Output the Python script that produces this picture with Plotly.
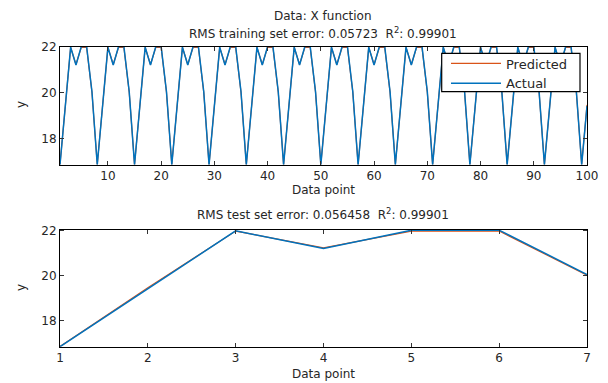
import plotly.graph_objects as go

# ---- data ----
train_x = list(range(1, 101))
period_actual = [16.85, 19.42, 22.00, 21.22, 22.03, 22.03, 20.06]
period_pred = [16.86, 19.47, 21.99, 21.24, 21.99, 21.99, 20.03]
train_actual = [period_actual[(i - 1) % 7] for i in train_x]
train_pred = [period_pred[(i - 1) % 7] for i in train_x]

test_x = [1, 2, 3, 4, 5, 6, 7]
test_actual = [16.85, 19.42, 22.00, 21.22, 22.03, 22.03, 20.06]
test_pred = [16.86, 19.47, 21.99, 21.24, 21.99, 21.99, 20.03]

top_xticks = [10, 20, 30, 40, 50, 60, 70, 80, 90, 100]
bottom_xticks = [1, 2, 3, 4, 5, 6, 7]
yticks = [18, 20, 22]

BLUE = "#0072BD"
ORANGE = "#D95319"
TXT = "#262626"
FONT = "DejaVu Sans, Liberation Sans, Arial, sans-serif"
FS = 12

fig = go.Figure()
fig.add_trace(go.Scatter(x=train_x, y=train_pred, mode="lines", name="Predicted",
                         line=dict(color=ORANGE, width=1.2), xaxis="x", yaxis="y"))
fig.add_trace(go.Scatter(x=train_x, y=train_actual, mode="lines", name="Actual",
                         line=dict(color=BLUE, width=1.5), xaxis="x", yaxis="y"))
fig.add_trace(go.Scatter(x=test_x, y=test_pred, mode="lines", showlegend=False,
                         line=dict(color=ORANGE, width=1.2), xaxis="x2", yaxis="y2"))
fig.add_trace(go.Scatter(x=test_x, y=test_actual, mode="lines", showlegend=False,
                         line=dict(color=BLUE, width=1.5), xaxis="x2", yaxis="y2"))

W, H = 608, 383
xd = [60 / W, 587 / W]
top_dom = [(H - 164.7) / H, (H - 46.5) / H]
bot_dom = [(H - 346.7) / H, (H - 229.5) / H]

ax_common = dict(showline=True, linecolor="black", linewidth=1, mirror="ticks",
                 ticks="inside", ticklen=4, tickcolor="#333333", showgrid=False,
                 zeroline=False, tickfont=dict(family=FONT, size=FS, color=TXT))

fig.update_layout(
    autosize=True, margin=dict(l=0, r=0, t=0, b=0, autoexpand=False),
    paper_bgcolor="white", plot_bgcolor="white",
    font=dict(family=FONT, size=FS, color=TXT),
    xaxis=dict(domain=xd, anchor="y", range=[1, 100], tickvals=top_xticks, **ax_common),
    yaxis=dict(domain=top_dom, anchor="x", range=[16.85, 22.03], tickvals=yticks, **ax_common),
    xaxis2=dict(domain=xd, anchor="y2", range=[1, 7], tickvals=bottom_xticks, **ax_common),
    yaxis2=dict(domain=bot_dom, anchor="x2", range=[16.85, 22.06], tickvals=yticks, **ax_common),
    legend=dict(x=446 / W, y=(H - 48.5) / H, xanchor="left", yanchor="top",
                bgcolor="rgba(0,0,0,0)", borderwidth=0,
                font=dict(family=FONT, size=13, color=TXT),
                tracegroupgap=0, itemwidth=50),
    showlegend=True,
)

# legend frame
fig.add_shape(type="rect", xref="paper", yref="paper", layer="above",
              x0=441.7 / W, x1=580 / W, y0=(H - 91.7) / H, y1=(H - 53.3) / H,
              line=dict(color="black", width=1.2), fillcolor="white")

ann = [
    dict(text="Data: X function", x=323 / W, y=(H - 16) / H),
    dict(text="RMS training set error: 0.05723  R<sup>2</sup>: 0.99901", x=323 / W, y=(H - 33) / H),
    dict(text="Data point", x=323 / W, y=(H - 190) / H),
    dict(text="RMS test set error: 0.056458  R<sup>2</sup>: 0.99901", x=323 / W, y=(H - 214) / H),
    dict(text="Data point", x=323 / W, y=(H - 374) / H),
]
for a in ann:
    fig.add_annotation(xref="paper", yref="paper", showarrow=False, xanchor="center",
                       yanchor="middle", font=dict(family=FONT, size=FS, color=TXT), **a)
for yy in [(H - 105) / H, (H - 288) / H]:
    fig.add_annotation(text="y", xref="paper", yref="paper", x=21 / W, y=yy, showarrow=False,
                       textangle=-90, xanchor="center", yanchor="middle",
                       font=dict(family=FONT, size=FS, color=TXT))

post = (
    "var s=document.createElement('style');"
    "s.innerHTML='html,body{margin:0;padding:0;width:100%;height:100%;overflow:hidden;}';"
    "document.head.appendChild(s);"
    "var gd=document.getElementById('{plot_id}');"
    "gd.style.width='100%';gd.style.height='100%';"
    "if(gd.parentNode){gd.parentNode.style.width='100%';gd.parentNode.style.height='100%';}"
    "Plotly.Plots.resize(gd);"
)

fig.write_html(
    "out.html",
    config={"displayModeBar": False, "responsive": True},
    default_width="100%", default_height="100%",
    post_script=post,
)
